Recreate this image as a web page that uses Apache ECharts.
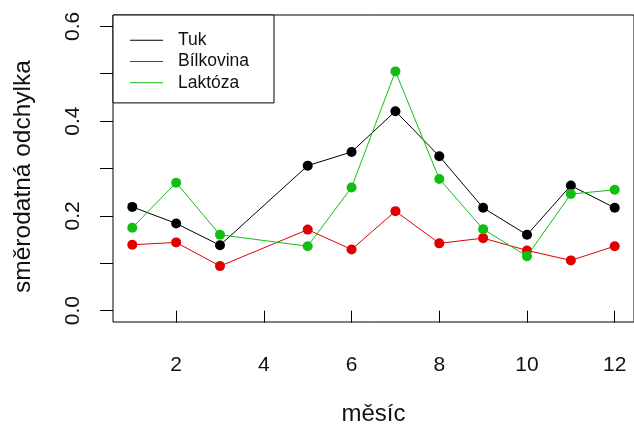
<!DOCTYPE html>
<html>
<head>
<meta charset="utf-8">
<script src="https://cdn.jsdelivr.net/npm/echarts@6/dist/echarts.min.js"></script>
<style>
  html, body { margin: 0; padding: 0; background: #fff; }
  #chart { width: 634px; height: 431px; }
</style>
</head>
<body>
<div id="chart"></div>
<script>
// Months (April has no measurement)
const months = [1, 2, 3, 5, 6, 7, 8, 9, 10, 11, 12];

// Standard deviation per month
const tuk       = [0.219, 0.184, 0.138, 0.306, 0.335, 0.421, 0.326, 0.217, 0.160, 0.264, 0.217];
const bilkovina = [0.139, 0.144, 0.094, 0.171, 0.129, 0.210, 0.142, 0.153, 0.127, 0.106, 0.136];
const laktoza   = [0.175, 0.270, 0.160, 0.136, 0.260, 0.505, 0.278, 0.172, 0.115, 0.246, 0.255];

const seriesNames = ['Tuk', 'Bílkovina', 'Laktóza'];
const seriesColors = ['#000000', '#E00000', '#12BE12'];

// Axis ticks and labels
const xLabelValues = [2, 4, 6, 8, 10, 12];
const yTickValues = [0, 0.1, 0.2, 0.3, 0.4, 0.5, 0.6];
const yLabelValues = [0, 0.2, 0.4, 0.6];

const FONT = "'Liberation Sans', Arial, sans-serif";

function pairs(values) {
  return months.map((m, i) => [m, values[i]]);
}

const chart = echarts.init(document.getElementById('chart'), null, { renderer: 'canvas' });

chart.setOption({
  animation: false,
  backgroundColor: '#ffffff',
  textStyle: { fontFamily: FONT },
  grid: {
    left: 113,
    top: 15,
    width: 522,
    height: 309,
    show: true,
    borderColor: '#000',
    borderWidth: 1,
    backgroundColor: 'transparent'
  },
  legend: {
    orient: 'vertical',
    left: 113,
    top: 15,
    data: seriesNames,
    selectedMode: false,
    icon: 'rect',
    itemWidth: 33,
    itemHeight: 1,
    itemGap: 1,
    padding: [15, 25, 10, 17],
    borderColor: '#000',
    borderWidth: 1,
    backgroundColor: '#fff',
    textStyle: {
      fontFamily: FONT,
      fontSize: 17.5,
      color: '#111',
      lineHeight: 20.3,
      padding: [0, 0, 0, 10]
    }
  },
  xAxis: {
    type: 'value',
    min: 0.56,
    max: 12.44,
    name: 'měsíc',
    nameLocation: 'middle',
    nameGap: 80,
    nameTextStyle: { fontFamily: FONT, fontSize: 24, color: '#111' },
    axisLine: { show: false },
    splitLine: { show: false },
    axisTick: {
      show: true,
      inside: false,
      length: 12,
      customValues: xLabelValues,
      lineStyle: { color: '#000', width: 1 }
    },
    axisLabel: {
      customValues: xLabelValues,
      margin: 33,
      fontFamily: FONT,
      fontSize: 21,
      color: '#111'
    }
  },
  yAxis: {
    type: 'value',
    min: -0.024,
    max: 0.624,
    name: 'směrodatná odchylka',
    nameLocation: 'middle',
    nameGap: 77,
    nameTextStyle: { fontFamily: FONT, fontSize: 24.5, color: '#111', padding: [0, 16, 0, 0] },
    axisLine: { show: false },
    splitLine: { show: false },
    axisTick: {
      show: true,
      inside: false,
      length: 13,
      customValues: yTickValues,
      lineStyle: { color: '#000', width: 1 }
    },
    axisLabel: {
      customValues: yLabelValues,
      rotate: 90,
      margin: 29,
      fontFamily: FONT,
      fontSize: 21,
      color: '#111',
      formatter: v => v.toFixed(1)
    }
  },
  series: [tuk, bilkovina, laktoza].map((vals, i) => ({
    name: seriesNames[i],
    type: 'line',
    data: pairs(vals),
    symbol: 'circle',
    symbolSize: 10,
    showSymbol: true,
    color: seriesColors[i],
    lineStyle: { width: 1, color: seriesColors[i] },
    itemStyle: { color: seriesColors[i] },
    z: 2 + i
  }))
});
</script>
</body>
</html>
